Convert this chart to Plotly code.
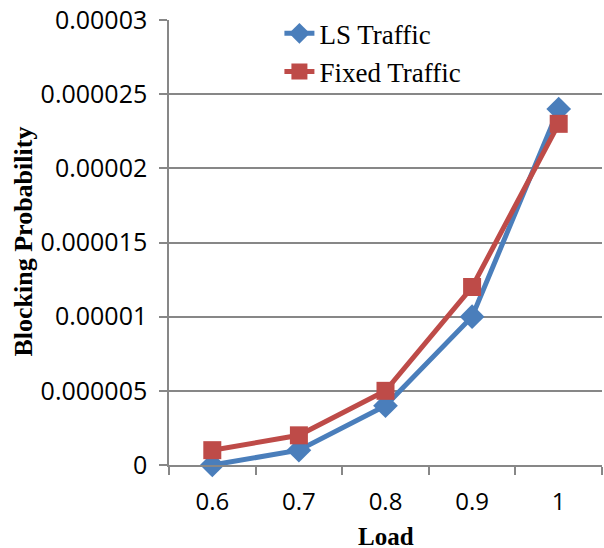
import plotly.graph_objects as go

loads = ["0.6", "0.7", "0.8", "0.9", "1"]
ls_traffic = [0.0, 0.000001, 0.000004, 0.00001, 0.000024]
fixed_traffic = [0.000001, 0.000002, 0.000005, 0.000012, 0.000023]
y_ticks = [0, 0.000005, 0.00001, 0.000015, 0.00002, 0.000025, 0.00003]
y_tick_text = ["0", "0.000005", "0.00001", "0.000015", "0.00002", "0.000025", "0.00003"]

blue = "#4A7EBB"
red = "#BE4B48"
grid = "#878787"

fig = go.Figure()
fig.add_trace(go.Scatter(
    x=loads, y=ls_traffic, name="LS Traffic", mode="lines+markers",
    line=dict(color=blue, width=5),
    marker=dict(symbol="diamond", size=19, color=blue),
    legendgroup="a", cliponaxis=False,
))
fig.add_trace(go.Scatter(
    x=loads, y=fixed_traffic, name="Fixed Traffic", mode="lines+markers",
    line=dict(color=red, width=5),
    marker=dict(symbol="square", size=18, color=red),
    legendgroup="b", cliponaxis=False,
))

fig.update_layout(
    width=604, height=548,
    margin=dict(l=169, r=2, t=20, b=83),
    paper_bgcolor="white", plot_bgcolor="white",
    font=dict(family="Open Sans, Lato, sans-serif", size=22, color="black"),
    showlegend=True,
    legend=dict(
        x=0.255, y=1.024, xanchor="left", yanchor="top",
        bgcolor="rgba(0,0,0,0)",
        font=dict(family="Liberation Serif, Times New Roman, serif", size=27, color="black"),
        tracegroupgap=0,
    ),
    xaxis=dict(
        type="category",
        range=[-0.5, 4.5],
        tickson="boundaries",
        ticks="outside", ticklen=8, tickcolor=grid, tickwidth=1.5,
        showline=True, linecolor=grid, linewidth=1.5,
        showgrid=False, automargin=False,
        tickfont=dict(family="Open Sans, sans-serif", size=24),
        ticklabelstandoff=14,
    ),
    yaxis=dict(
        range=[0, 0.00003],
        tickvals=y_ticks, ticktext=y_tick_text,
        ticks="outside", ticklen=8, tickcolor=grid, tickwidth=1.5,
        showline=True, linecolor=grid, linewidth=1.5,
        showgrid=True, gridcolor=grid, gridwidth=1.5,
        zeroline=False, automargin=False,
        tickfont=dict(family="Open Sans, sans-serif", size=25),
        ticklabelstandoff=7,
    ),
    annotations=[
        dict(text="<b>Load</b>", xref="paper", yref="paper", x=0.5, y=-0.16,
             xanchor="center", yanchor="middle", showarrow=False,
             font=dict(family="Liberation Serif, serif", size=25)),
        dict(text="<b>Blocking Probability</b>", xref="paper", yref="paper",
             x=-0.336, y=0.501, textangle=-90,
             xanchor="center", yanchor="middle", showarrow=False,
             font=dict(family="Liberation Serif, serif", size=26)),
    ],
)

fig.write_html("out.html", config={"displayModeBar": False},
               post_script="document.body.style.margin='0';")
